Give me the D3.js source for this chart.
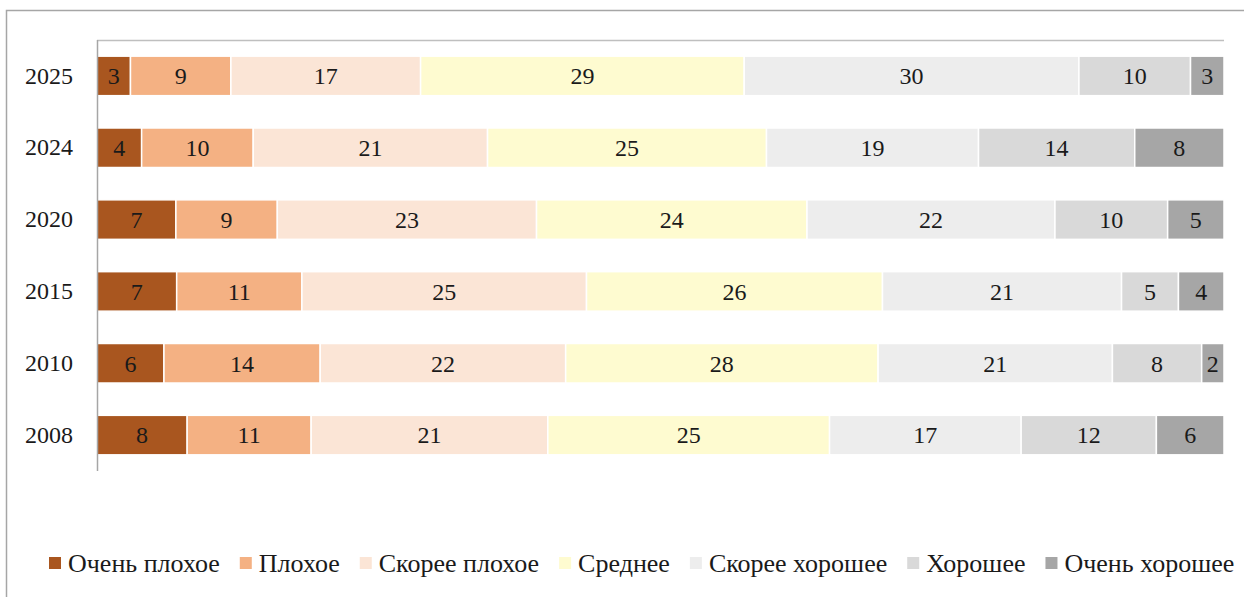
<!DOCTYPE html>
<html>
<head>
<meta charset="utf-8">
<script src="https://cdn.jsdelivr.net/npm/d3@7"></script>
<style>
  html, body { margin: 0; padding: 0; background: #fff; }
  svg { display: block; }
</style>
</head>
<body>
<svg id="chart" width="1244" height="597"></svg>
<script>
// Survey years (top to bottom)
const years = ["2025", "2024", "2020", "2015", "2010", "2008"];

// Answer categories (left to right in each bar)
const categories = ["Очень плохое", "Плохое", "Скорее плохое", "Среднее",
                    "Скорее хорошее", "Хорошее", "Очень хорошее"];

// Share of answers per year, %
const veryBad    = [3, 4, 7, 7, 6, 8];
const bad        = [9, 10, 9, 11, 14, 11];
const ratherBad  = [17, 21, 23, 25, 22, 21];
const average    = [29, 25, 24, 26, 28, 25];
const ratherGood = [30, 19, 22, 21, 21, 17];
const good       = [10, 14, 10, 5, 8, 12];
const veryGood   = [3, 8, 5, 4, 2, 6];

const colors = ["#A9561F", "#F4B183", "#FBE5D6", "#FEFBD0", "#EDEDED", "#D9D9D9", "#A6A6A6"];

const seriesValues = [veryBad, bad, ratherBad, average, ratherGood, good, veryGood];
const rows = years.map((yr, i) => {
  const r = { year: yr };
  categories.forEach((c, k) => { r[c] = seriesValues[k][i]; });
  return r;
});

const svg = d3.select("#chart");
const font = "'Liberation Serif', 'DejaVu Serif', serif";

// outer frame
svg.append("path")
  .attr("d", "M6.5,597 V10.5 H1244")
  .attr("fill", "none").attr("stroke", "#a6a6a6").attr("stroke-width", 1.5);

const plotLeft = 97, plotRight = 1224, plotTop = 40, plotBottom = 471;

const x = d3.scaleLinear().domain([0, 1]).range([plotLeft, plotRight]);
const y = d3.scaleBand().domain(years).range([plotTop, plotBottom])
  .paddingInner(0.45).paddingOuter(0.225);
const color = d3.scaleOrdinal().domain(categories).range(colors);

const stack = d3.stack().keys(categories).offset(d3.stackOffsetExpand);
const series = stack(rows);

// plot frame: top line
svg.append("line")
  .attr("x1", plotLeft).attr("x2", plotRight).attr("y1", plotTop + 0.5).attr("y2", plotTop + 0.5)
  .attr("stroke", "#bfbfbf").attr("stroke-width", 1.5);

const groups = svg.append("g").selectAll("g").data(series).join("g")
  .attr("fill", d => color(d.key));

groups.selectAll("rect").data(d => d).join("rect")
  .attr("x", d => x(d[0]))
  .attr("y", d => y(d.data.year))
  .attr("width", d => x(d[1]) - x(d[0]))
  .attr("height", y.bandwidth())
  .attr("stroke", "#fff").attr("stroke-width", 1.5);

// value labels
groups.each(function(s) {
  d3.select(this).selectAll("text").data(s).join("text")
    .attr("x", d => (x(d[0]) + x(d[1])) / 2)
    .attr("y", d => y(d.data.year) + y.bandwidth() / 2)
    .attr("dy", "0.35em")
    .attr("text-anchor", "middle")
    .attr("fill", "#1a1a1a")
    .style("font-family", font).style("font-size", "24px")
    .text(d => d.data[s.key]);
});

// category axis
const yAxis = svg.append("g")
  .attr("transform", `translate(${plotLeft},0)`)
  .call(d3.axisLeft(y).tickSize(0).tickPadding(24));
yAxis.select(".domain").attr("stroke", "#a6a6a6").attr("stroke-width", 1.5)
  .attr("d", `M0.5,${plotTop}V${plotBottom}`);
yAxis.selectAll("text")
  .style("font-family", font).style("font-size", "24px").attr("fill", "#1a1a1a");

// legend
const legend = svg.append("g").attr("transform", "translate(49,563)");
let lx = 0;
categories.forEach(c => {
  const g = legend.append("g").attr("transform", `translate(${lx},0)`);
  g.append("rect").attr("x", 0).attr("y", -6).attr("width", 12).attr("height", 12)
    .attr("fill", color(c));
  const t = g.append("text").attr("x", 19).attr("y", 0).attr("dy", "0.35em")
    .attr("fill", "#1a1a1a")
    .style("font-family", font).style("font-size", "26px").text(c);
  lx += 19 + t.node().getComputedTextLength() + 20;
});
</script>
</body>
</html>
